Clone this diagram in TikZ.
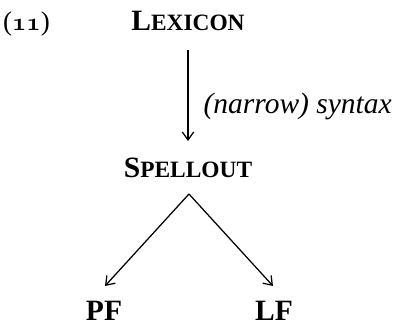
\documentclass[tikz,border=0pt]{standalone}
\usepackage{fontspec}
\setmainfont{Liberation Serif}
\usetikzlibrary{arrows.meta}

% bold caps-and-small-caps built from two sizes of the bold face
\newcommand\bsc[2]{{\bfseries\fontsize{29.5}{32}\selectfont #1\fontsize{23.4}{26}\selectfont #2}}
% old-style figures taken from the math italic font
\newcommand\osfig[1]{{\usefont{OML}{cmm}{b}{it}#1}}

\begin{document}
\begin{tikzpicture}[x=1pt,y=-1pt,
  term/.style={inner sep=0pt, anchor=base},
  flow/.style={-{Straight Barb[length=8pt,width=11.5pt]}, line width=1.25pt}]
\useasboundingbox (0,0) rectangle (394,325);

\node[term, anchor=base west] (num) at (3,30)
  {\fontsize{27}{30}\selectfont(\osfig{11})};

\node[term] (lex) at (188,30) {\bsc{L}{EXICON}};
\node[term] (spell) at (188,177) {\bsc{S}{PELLOUT}};
\node[term] (pf) at (104,320) {{\bfseries\fontsize{29.5}{32}\selectfont PF}};
\node[term] (lf) at (274,320) {{\bfseries\fontsize{29.5}{32}\selectfont LF}};

\draw[flow, shorten <=20pt, shorten >=36pt] (lex.base) -- (spell.base)
  node[pos=0.52, anchor=west, inner sep=0pt, xshift=15pt]
  (syn) {\itshape\fontsize{29.5}{32}\selectfont (narrow) syntax};

\draw[flow] ([xshift=1pt, yshift=-17pt]spell.base) -- ([xshift=1pt, yshift=34pt]pf.base);
\draw[flow] ([xshift=1pt, yshift=-17pt]spell.base) -- ([xshift=-1pt, yshift=34pt]lf.base);
\end{tikzpicture}
\end{document}
